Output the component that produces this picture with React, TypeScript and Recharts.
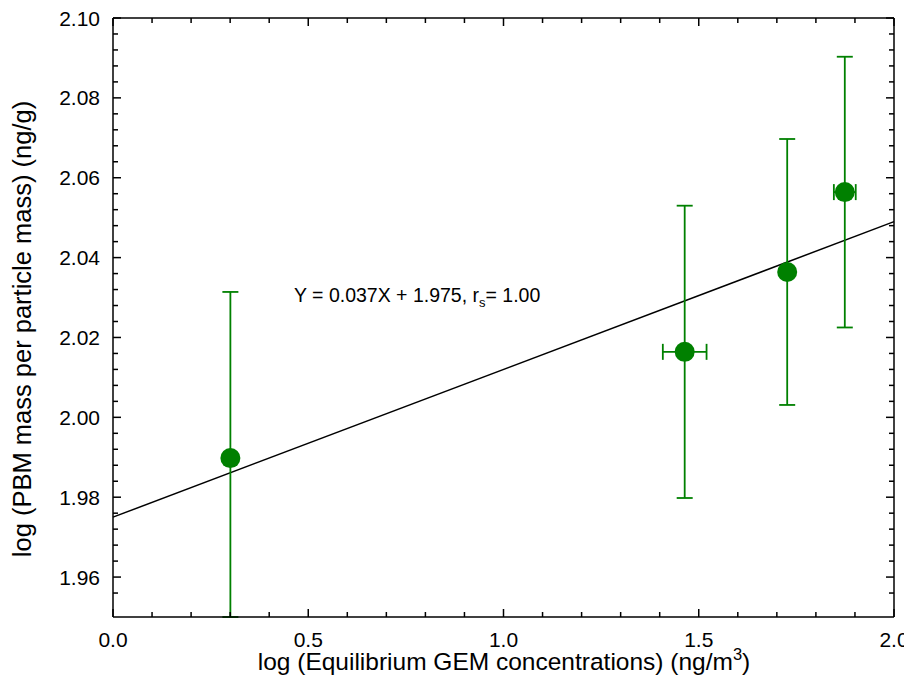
import React from "react";
import {
  ScatterChart,
  Scatter,
  XAxis,
  YAxis,
  ErrorBar,
  ReferenceLine,
} from "recharts";

// measured points: log GEM (x) vs log PBM per particle mass (y)
const xValues = [0.3006, 1.464, 1.7265, 1.874];
const yValues = [1.9898, 2.0164, 2.0364, 2.0564];
// y error (low, high) as visible in the plot; first bar runs off the axis
const yErrLow = [0.0398, 0.0366, 0.0333, 0.0339];
const yErrHigh = [0.0416, 0.0366, 0.0333, 0.0339];
const xErrors = [0, 0.056, 0, 0.028];

// regression line end points (Y = 0.037X + 1.975)
const fitX = [0, 2];
const fitY = [1.975, 2.049];

const xTicks = [
  0, 0.1, 0.2, 0.3, 0.4, 0.5, 0.6, 0.7, 0.8, 0.9, 1.0, 1.1, 1.2, 1.3, 1.4,
  1.5, 1.6, 1.7, 1.8, 1.9, 2.0,
];
const xMajor = [0, 0.5, 1.0, 1.5, 2.0];
const yTicks = [
  1.956, 1.96, 1.964, 1.968, 1.972, 1.976, 1.98, 1.984, 1.988, 1.992, 1.996,
  2.0, 2.004, 2.008, 2.012, 2.016, 2.02, 2.024, 2.028, 2.032, 2.036, 2.04,
  2.044, 2.048, 2.052, 2.056, 2.06, 2.064, 2.068, 2.072, 2.076, 2.08, 2.084,
  2.088, 2.092, 2.096, 2.1,
];
const yMajor = [1.96, 1.98, 2.0, 2.02, 2.04, 2.06, 2.08, 2.1];

const data = xValues.map((x, i) => ({
  x,
  y: yValues[i],
  yErr: [yErrLow[i], yErrHigh[i]],
  xErr: xErrors[i],
}));

const FONT = "'Liberation Sans', Arial, sans-serif";
const GREEN = "#008000";
const MAJOR = 8;
const MINOR = 5;
const W = 904;
const H = 670;

const isMajor = (v: number, list: number[]) =>
  list.some((m) => Math.abs(m - v) < 1e-6);

const BottomTick = (props: any) => {
  const { x, y, payload } = props;
  const major = isMajor(payload.value, xMajor);
  return (
    <g>
      <line x1={x} y1={y} x2={x} y2={y - (major ? MAJOR : MINOR)} stroke="#000" strokeWidth={1.5} />
      {major && (
        <text x={x} y={y + 30} textAnchor="middle" fontSize={21} fontFamily={FONT} fill="#000">
          {payload.value.toFixed(1)}
        </text>
      )}
    </g>
  );
};

const TopTick = (props: any) => {
  const { x, y, payload } = props;
  const major = isMajor(payload.value, xMajor);
  return (
    <line x1={x} y1={y} x2={x} y2={y + (major ? MAJOR : MINOR)} stroke="#000" strokeWidth={1.5} />
  );
};

const LeftTick = (props: any) => {
  const { x, y, payload } = props;
  const major = isMajor(payload.value, yMajor);
  return (
    <g>
      <line x1={x} y1={y} x2={x + (major ? MAJOR : MINOR)} y2={y} stroke="#000" strokeWidth={1.5} />
      {major && (
        <text x={x - 13} y={y + 7.5} textAnchor="end" fontSize={21} fontFamily={FONT} fill="#000">
          {payload.value.toFixed(2)}
        </text>
      )}
    </g>
  );
};

const RightTick = (props: any) => {
  const { x, y, payload } = props;
  const major = isMajor(payload.value, yMajor);
  return (
    <line x1={x} y1={y} x2={x - (major ? MAJOR : MINOR)} y2={y} stroke="#000" strokeWidth={1.5} />
  );
};

const Dot = (props: any) => <circle cx={props.cx} cy={props.cy} r={10} fill={GREEN} />;
const NoDot = () => <g />;

const axisLine = { stroke: "#000", strokeWidth: 1.5 };

export default function App() {
  return (
    <div style={{ position: "relative", width: W, height: H, overflow: "visible" }}>
      <ScatterChart
        width={W}
        height={H}
        margin={{ top: 9, right: 17, bottom: 0, left: 0 }}
        style={{ overflow: "visible" }}
      >
        <XAxis
          type="number"
          dataKey="x"
          domain={[0, 2]}
          ticks={xTicks}
          interval={0}
          height={61}
          tickSize={0}
          tickMargin={0}
          tickLine={false}
          axisLine={axisLine}
          tick={<BottomTick />}
        />
        <XAxis
          xAxisId="top"
          orientation="top"
          type="number"
          dataKey="x"
          domain={[0, 2]}
          ticks={xTicks}
          interval={0}
          height={1}
          tickSize={0}
          tickMargin={0}
          tickLine={false}
          axisLine={axisLine}
          tick={<TopTick />}
        />
        <YAxis
          type="number"
          dataKey="y"
          domain={[1.95, 2.1]}
          allowDataOverflow
          ticks={yTicks}
          interval={0}
          width={105}
          tickSize={0}
          tickMargin={0}
          tickLine={false}
          axisLine={axisLine}
          tick={<LeftTick />}
        />
        <YAxis
          yAxisId="right"
          orientation="right"
          type="number"
          dataKey="y"
          domain={[1.95, 2.1]}
          allowDataOverflow
          ticks={yTicks}
          interval={0}
          width={1}
          tickSize={0}
          tickMargin={0}
          tickLine={false}
          axisLine={axisLine}
          tick={<RightTick />}
        />
        <ReferenceLine
          segment={[
            { x: fitX[0], y: fitY[0] },
            { x: fitX[1], y: fitY[1] },
          ]}
          stroke="#000"
          strokeWidth={1.5}
        />
        {/* invisible copy so the mirrored top/right axes have a series */}
        <Scatter
          data={data}
          xAxisId="top"
          yAxisId="right"
          shape={<NoDot />}
          legendType="none"
          isAnimationActive={false}
        />
        <Scatter data={data} shape={<Dot />} isAnimationActive={false}>
          <ErrorBar dataKey="yErr" direction="y" width={8} stroke={GREEN} strokeWidth={1.8} />
          <ErrorBar dataKey="xErr" direction="x" width={8} stroke={GREEN} strokeWidth={1.8} />
        </Scatter>
      </ScatterChart>
      <svg
        width={W}
        height={H}
        style={{ position: "absolute", left: 0, top: 0, pointerEvents: "none", overflow: "visible" }}
        fontFamily={FONT}
      >
        <text x={496} y={662} textAnchor="middle" fontSize={24.5} fill="#000">
          log (Equilibrium GEM concentrations) (ng/m
          <tspan dy={-10} fontSize={16.5}>3</tspan>
          <tspan dy={10}>)</tspan>
        </text>
        <text
          transform="translate(23,321) rotate(-90)"
          textAnchor="middle"
          fontSize={25.5}
          fill="#000"
        >
          log (PBM mass per particle mass) (ng/g)
        </text>
        <text x={286} y={294} fontSize={19.5} fill="#000">
          Y = 0.037X + 1.975, r
          <tspan dy={5} fontSize={13}>s</tspan>
          <tspan dy={-5}>= 1.00</tspan>
        </text>
      </svg>
    </div>
  );
}
